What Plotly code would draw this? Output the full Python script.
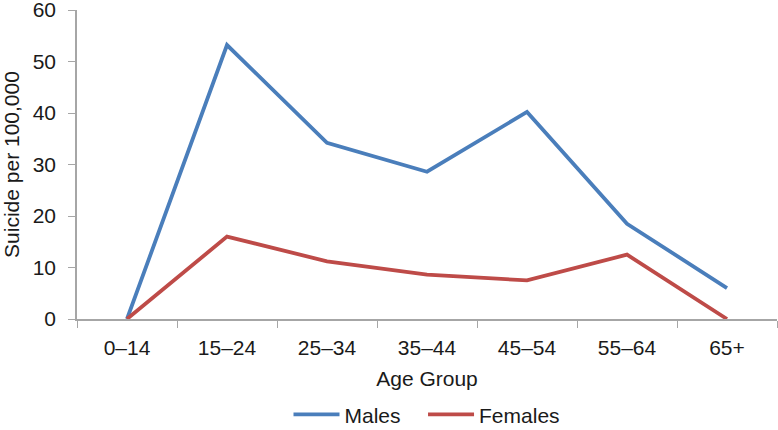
import plotly.graph_objects as go

age_groups = ["0–14", "15–24", "25–34", "35–44", "45–54", "55–64", "65+"]
males = [0, 53.2, 34.2, 28.6, 40.2, 18.5, 6.0]
females = [0, 16.0, 11.2, 8.6, 7.5, 12.5, 0]
series_names = ["Males", "Females"]

FONT = "Liberation Sans, Arial, Helvetica, sans-serif"
FS = 21

fig = go.Figure()
fig.add_trace(go.Scatter(x=age_groups, y=males, mode="lines",
                         name=series_names[0] + "\u00a0\u00a0\u00a0",
                         line=dict(color="#4a7ebb", width=3.8)))
fig.add_trace(go.Scatter(x=age_groups, y=females, mode="lines",
                         name=series_names[1],
                         line=dict(color="#be4b48", width=3.8)))

fig.update_layout(
    template="none",
    width=778, height=430,
    margin=dict(l=77, r=1, t=10, b=111, autoexpand=False),
    paper_bgcolor="white", plot_bgcolor="white",
    font=dict(family=FONT, size=FS, color="#1a1a1a"),
    showlegend=True,
    legend=dict(orientation="h", x=0.5, xanchor="center", y=-0.31, yanchor="middle",
                font=dict(size=FS), bgcolor="rgba(0,0,0,0)", itemwidth=46),
    xaxis=dict(
        title=dict(text="Age Group", font=dict(size=FS), standoff=13),
        range=[-0.5, 6.5], automargin=False,
        showgrid=False, showline=True, linecolor="#a6a6a6", linewidth=1.5,
        ticks="outside", tickson="boundaries", ticklen=7, tickcolor="#a6a6a6",
        tickfont=dict(size=FS), ticklabelstandoff=9,
    ),
    yaxis=dict(
        title=dict(text="Suicide per 100,000", font=dict(size=FS), standoff=8),
        range=[0, 60], dtick=10, showgrid=False, showline=True, automargin=False,
        linecolor="#a6a6a6", linewidth=1.5,
        ticks="outside", ticklen=7, tickcolor="#a6a6a6",
        tickfont=dict(size=FS), zeroline=False, ticklabelstandoff=8,
        ticklabeloverflow="allow",
    ),
)

fig.write_html("out.html", config={"displayModeBar": False},
               post_script="document.body.style.margin='0px';")
